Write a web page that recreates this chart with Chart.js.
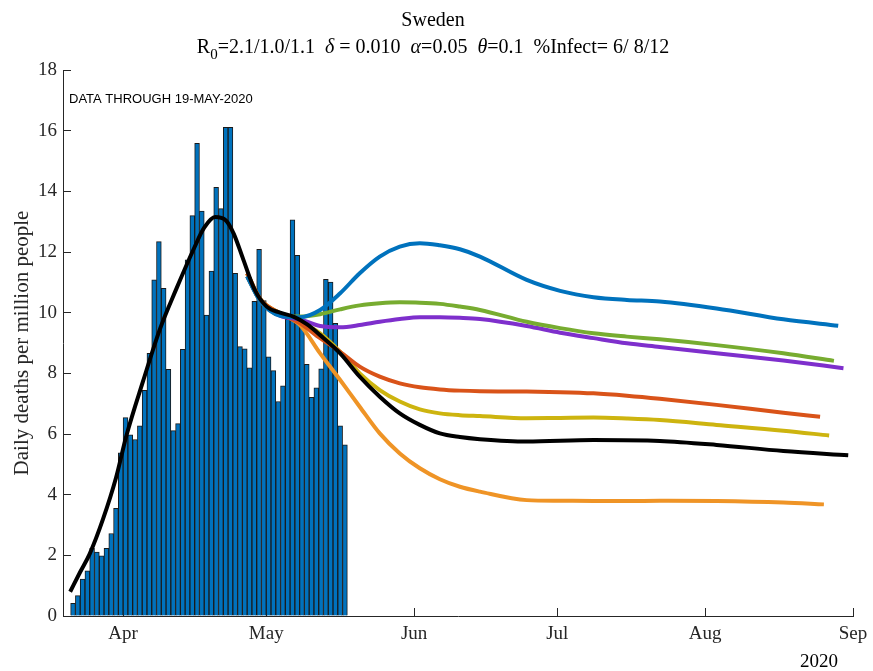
<!DOCTYPE html>
<html>
<head>
<meta charset="utf-8">
<script src="https://cdn.jsdelivr.net/npm/chart.js@4.4.0/dist/chart.umd.min.js"></script>
<style>
  body { margin: 0; background: #fff; }
  #wrap { width: 873px; height: 671px; }
</style>
</head>
<body>
<div id="wrap"><canvas id="sweden" width="873" height="671"></canvas></div>
<script>
// x values are day-of-year 2020 (Jan 1 = 1)
var barStartDay = 81; // 21-Mar
var dailyDeaths = [0.42,0.67,1.22,1.49,2.23,2.11,1.98,2.23,2.72,3.55,5.38,6.54,5.97,5.82,6.27,7.44,8.66,11.08,12.34,10.8,
  8.13,6.11,6.34,8.79,11.74,13.2,15.58,13.35,9.92,11.37,14.13,13.43,16.11,16.11,11.3,8.88,8.81,8.18,10.37,12.09,
  10.4,8.54,8.09,7.07,7.59,9.78,13.06,11.89,9.76,8.3,7.21,7.52,8.15,11.1,11.01,9.65,6.27,5.64];

// fitted curve
var fitDays = [80.9,83,85,87.8,90.5,92.7,96.2,99.7,103.2,106.8,109,111.3,113.5,115.2,117.2,119.6,122.1,124.9,127.7,130.5,133.3,
  137.5,141.6,145.8,150,154.2,158.4,162.6,166.8,176.6,190.6,204.5,216.4,230.4,244];
var fitVals = [0.8,1.45,2.05,3.2,4.55,5.95,7.75,9.45,10.8,12.1,12.8,13.15,13.05,12.6,11.75,10.75,10.2,10.0,9.87,9.62,9.26,
  8.66,7.89,7.23,6.68,6.3,6.02,5.9,5.83,5.75,5.8,5.77,5.64,5.44,5.3];

// projections
var projDays = [118,120.7,124.9,129.1,133.3,137.5,141.6,145.8,150,154.2,158.4,162.6,166.8,176.6,183.6,190.6,197.6,204.5,216.4,230.4];
var blueVals   = [11.2,10.4,9.9,9.85,10.09,10.64,11.3,11.85,12.18,12.29,12.22,12.09,11.85,11.08,10.72,10.51,10.42,10.37,10.14,9.78];
var greenVals  = [11.2,10.4,9.92,9.87,9.95,10.11,10.24,10.31,10.34,10.33,10.29,10.2,10.09,9.7,9.49,9.32,9.21,9.12,8.93,8.66];
var purpleVals = [11.2,10.4,9.9,9.78,9.56,9.52,9.59,9.7,9.79,9.85,9.85,9.83,9.79,9.56,9.34,9.16,8.99,8.87,8.66,8.42];
var redVals    = [11.3,10.45,9.98,9.65,9.16,8.71,8.22,7.89,7.67,7.54,7.47,7.43,7.41,7.4,7.38,7.34,7.26,7.16,6.96,6.7];
var yellowVals = [11.3,10.45,9.98,9.7,9.32,8.71,8.0,7.45,7.07,6.81,6.68,6.62,6.59,6.52,6.53,6.54,6.51,6.46,6.3,6.11];
var orangeVals = [11.3,10.45,9.98,9.59,8.66,7.78,6.9,6.02,5.36,4.87,4.51,4.26,4.1,3.82,3.8,3.79,3.79,3.8,3.79,3.74];
// last point of each projection: [day, value]
var blueEnd = [241.9, 9.57], greenEnd = [241.0, 8.41], purpleEnd = [243.0, 8.17];
var redEnd = [238.1, 6.57], yellowEnd = [240.0, 5.95], orangeEnd = [238.9, 3.68];

var tickDays = [92, 122, 153, 183, 214, 245];
var tickLabels = ['Apr', 'May', 'Jun', 'Jul', 'Aug', 'Sep'];
var yTicks = [0, 2, 4, 6, 8, 10, 12, 14, 16, 18];
var xMin = 79.4, xMax = 245;

function pts(xs, ys, end) {
  var out = xs.map(function (x, i) { return {x: x, y: ys[i]}; });
  if (end) out.push({x: end[0], y: end[1]});
  return out;
}

var bars = dailyDeaths.map(function (v, i) { return {x: barStartDay + i, y: v}; });

function projLine(data, color, order) {
  return {
    type: 'line', data: data, xAxisID: 'xl', borderColor: color, borderWidth: 4,
    pointRadius: 0, cubicInterpolationMode: 'monotone', fill: false, order: order
  };
}

var serif = '"Liberation Serif", "Times New Roman", serif';

var textPlugin = {
  id: 'texts',
  afterDraw: function (chart) {
    var ctx = chart.ctx, a = chart.chartArea;
    ctx.save();
    ctx.fillStyle = '#000';
    ctx.textBaseline = 'alphabetic';
    // title
    ctx.font = '20px ' + serif;
    ctx.textAlign = 'center';
    ctx.fillText('Sweden', 433, 26);
    // subtitle made of pieces (subscript, italic greek)
    var parts = [
      ['R', '20px ' + serif, 0],
      ['0', '15px ' + serif, 6],
      ['=2.1/1.0/1.1  ', '20px ' + serif, 0],
      ['\u03B4', 'italic 20px ' + serif, 0],
      [' = 0.010  ', '20px ' + serif, 0],
      ['\u03B1', 'italic 20px ' + serif, 0],
      ['=0.05  ', '20px ' + serif, 0],
      ['\u03B8', 'italic 20px ' + serif, 0],
      ['=0.1  %Infect= 6/ 8/12', '20px ' + serif, 0]
    ];
    var total = 0;
    parts.forEach(function (p) { ctx.font = p[1]; total += ctx.measureText(p[0]).width; });
    var x = 433 - total / 2;
    ctx.textAlign = 'left';
    parts.forEach(function (p) {
      ctx.font = p[1];
      ctx.fillText(p[0], x, 53 + p[2]);
      x += ctx.measureText(p[0]).width;
    });
    // note in top-left of axes
    ctx.font = '13px "Liberation Sans", Arial, sans-serif';
    ctx.fillText('DATA THROUGH 19-MAY-2020', a.left + 6, a.top + 33);
    // year under the last tick
    ctx.font = '19px ' + serif;
    ctx.textAlign = 'right';
    ctx.fillText('2020', a.right - 15, 667);
    ctx.restore();
  }
};

new Chart(document.getElementById('sweden'), {
  type: 'bar',
  data: {
    datasets: [
      projLine(pts(fitDays, fitVals), '#000000', 0),
      projLine(pts(projDays, blueVals, blueEnd), '#0072BD', 1),
      projLine(pts(projDays, greenVals, greenEnd), '#77AC30', 2),
      projLine(pts(projDays, purpleVals, purpleEnd), '#7E2FCC', 3),
      projLine(pts(projDays, redVals, redEnd), '#D95319', 4),
      projLine(pts(projDays, yellowVals, yellowEnd), '#CDB40F', 5),
      projLine(pts(projDays, orangeVals, orangeEnd), '#EF9426', 6),
      {
        type: 'bar', data: bars, backgroundColor: '#0072BD', borderColor: '#1a1a1a',
        borderWidth: 1, borderSkipped: 'bottom', barThickness: 4.8, order: 10
      }
    ]
  },
  options: {
    responsive: false,
    animation: false,
    devicePixelRatio: 1,
    layout: { padding: { top: 70, right: 20, left: 0, bottom: 0 } },
    plugins: { legend: { display: false }, tooltip: { enabled: false } },
    scales: {
      x: {
        type: 'linear', min: xMin, max: xMax, offset: false,
        afterFit: function (s) { s.height = 55; s.paddingLeft = 0; s.paddingRight = 0; },
        afterBuildTicks: function (s) { s.ticks = tickDays.map(function (v) { return {value: v}; }); },
        grid: { offset: false, drawOnChartArea: false, tickLength: -8, color: '#262626' },
        border: { color: '#262626', width: 1 },
        ticks: {
          autoSkip: false, maxRotation: 0, padding: 15, color: '#262626',
          font: { family: serif, size: 19 },
          callback: function (v) { var i = tickDays.indexOf(v); return i < 0 ? '' : tickLabels[i]; }
        }
      },
      xl: {
        type: 'linear', min: xMin, max: xMax, display: false, offset: false
      },
      y: {
        min: 0, max: 18,
        afterFit: function (s) { s.width = 63; s.paddingTop = 0; s.paddingBottom = 0; },
        afterBuildTicks: function (s) { s.ticks = yTicks.map(function (v) { return {value: v}; }); },
        grid: { offset: false, drawOnChartArea: false, tickLength: -8, color: '#262626' },
        border: { color: '#262626', width: 1 },
        title: {
          display: true, text: 'Daily deaths per million people', color: '#262626',
          font: { family: serif, size: 21 }, padding: { top: 10, bottom: 0 }
        },
        ticks: { padding: 14, color: '#262626', font: { family: serif, size: 19 } }
      }
    }
  },
  plugins: [textPlugin]
});
</script>
</body>
</html>
